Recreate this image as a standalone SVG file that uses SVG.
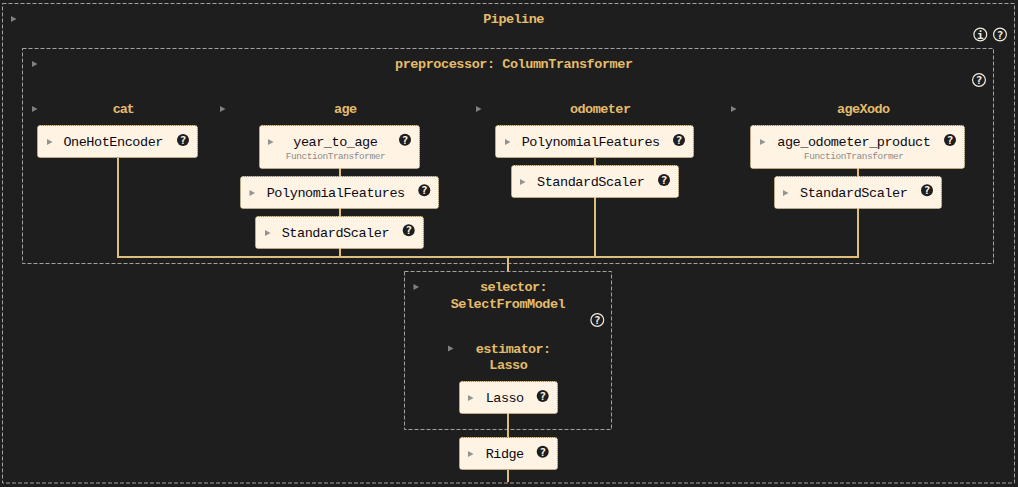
<svg xmlns="http://www.w3.org/2000/svg" width="1018" height="487" viewBox="0 0 1018 487">
<style>
text{font-family:"Liberation Mono","DejaVu Sans Mono",monospace;white-space:pre}
.box{fill:none;stroke:#a3a3a3;stroke-width:1;stroke-dasharray:4 2}
.node{fill:#fff3e4;stroke:#e3c98f;stroke-width:1;stroke-dasharray:1 1}
.line{fill:none;stroke:#dfbe7a;stroke-width:2}
.t{font-size:13.5px;fill:#e3bc6c;font-weight:700}
.n{font-size:13.5px;fill:#0a0a14}
.s{font-size:9.4px;fill:#8a8a8a}
.tri{fill:#808080}
.tri2{fill:#94948f}
.hd{fill:#1e1e1e}
.hl{fill:#1e1e1e;stroke:#f2ece0;stroke-width:1.2}
.q{font-size:11px;font-weight:700;fill:#fff3e4;text-anchor:middle;font-family:"DejaVu Sans Mono",monospace}
.q2{font-size:11px;font-weight:700;fill:#f2ece0;text-anchor:middle;font-family:"DejaVu Sans Mono",monospace}
</style>
<defs>
<polygon id="tr" points="0,-3 5.5,0 0,3"/>
<g id="h"><circle class="hd" r="6"/><text class="q" y="4">?</text></g>
<g id="hq"><circle class="hl" r="6.4"/><text class="q2" y="4">?</text></g>
</defs>
<rect width="1018" height="487" fill="#1e1e1e"/>
<g id="pipeline"><rect class="box" x="2.5" y="3.5" width="1012" height="479.5"/>
<use href="#tr" class="tri" x="11" y="19"/>
<text class="t" x="483.3" y="23" textLength="61">Pipeline</text>
<circle class="hl" cx="980.3" cy="34.5" r="6.4"/><text class="q2" x="980.3" y="38.5">i</text>
<use href="#hq" x="1000" y="34.5"/></g>
<g id="preprocessor"><rect class="box" x="22.5" y="48.5" width="971" height="215"/>
<use href="#tr" class="tri" x="32" y="64"/>
<text class="t" x="395" y="68" textLength="238">preprocessor: ColumnTransformer</text>
<use href="#hq" x="979" y="80"/></g>
<g id="selector"><rect class="box" x="404.5" y="271.5" width="207" height="158"/>
<use href="#tr" class="tri" x="413.5" y="287"/>
<text class="t" x="480" y="291" textLength="67.5">selector:</text>
<text class="t" x="450.7" y="308" textLength="115">SelectFromModel</text>
<use href="#hq" x="597.3" y="320"/></g>
<g id="connectors">
<path class="line" d="M118 158V257M340 168V257M595 158V257M858 168V257M117 257H859M508 257V271M508 413V437M508 470V482"/>
</g>
<g id="label-cat"><use href="#tr" class="tri" x="32" y="109"/><text class="t" x="112.7" y="113" textLength="22">cat</text></g>
<g id="label-age"><use href="#tr" class="tri" x="220" y="109"/><text class="t" x="334" y="113" textLength="23">age</text></g>
<g id="label-odometer"><use href="#tr" class="tri" x="476" y="109"/><text class="t" x="570" y="113" textLength="61">odometer</text></g>
<g id="label-ageXodo"><use href="#tr" class="tri" x="731" y="109"/><text class="t" x="837" y="113" textLength="53">ageXodo</text></g>
<g id="label-estimator"><use href="#tr" class="tri" x="448" y="348.5"/><text class="t" x="475.7" y="352.5" textLength="75.5">estimator:</text><text class="t" x="489.3" y="369" textLength="38.5">Lasso</text></g>
<g id="onehot"><rect class="node" x="37.5" y="125.5" width="160" height="32" rx="2.5"/><use href="#tr" class="tri2" x="47" y="142"/><text class="n" x="63.4" y="146" textLength="100">OneHotEncoder</text><use href="#h" x="183" y="140"/></g>
<g id="year_to_age"><rect class="node" x="259.5" y="125.5" width="160" height="43" rx="2.5"/><use href="#tr" class="tri2" x="268" y="142"/><text class="n" x="293.3" y="146" textLength="84.5">year_to_age</text><text class="s" x="285.7" y="159" textLength="100">FunctionTransformer</text><use href="#h" x="405" y="139.7"/></g>
<g id="age-poly"><rect class="node" x="240.5" y="176.5" width="198" height="32" rx="2.5"/><use href="#tr" class="tri2" x="249.5" y="193"/><text class="n" x="266.7" y="197" textLength="138.5">PolynomialFeatures</text><use href="#h" x="424.3" y="190.3"/></g>
<g id="age-scaler"><rect class="node" x="255.5" y="216.5" width="168" height="32" rx="2.5"/><use href="#tr" class="tri2" x="265" y="233"/><text class="n" x="281.7" y="237" textLength="107.8">StandardScaler</text><use href="#h" x="408.7" y="230.3"/></g>
<g id="odo-poly"><rect class="node" x="495.5" y="125.5" width="198" height="32" rx="2.5"/><use href="#tr" class="tri2" x="505" y="142"/><text class="n" x="521.7" y="146" textLength="138.5">PolynomialFeatures</text><use href="#h" x="679" y="140"/></g>
<g id="odo-scaler"><rect class="node" x="511.5" y="165.5" width="167" height="32" rx="2.5"/><use href="#tr" class="tri2" x="520" y="182"/><text class="n" x="537" y="186" textLength="107.8">StandardScaler</text><use href="#h" x="664" y="180"/></g>
<g id="age_odometer_product"><rect class="node" x="750.5" y="125.5" width="214" height="43" rx="2.5"/><use href="#tr" class="tri2" x="760" y="142"/><text class="n" x="777.3" y="146" textLength="153.5">age_odometer_product</text><text class="s" x="804" y="159" textLength="100">FunctionTransformer</text><use href="#h" x="950" y="140"/></g>
<g id="axo-scaler"><rect class="node" x="774.5" y="176.5" width="167" height="32" rx="2.5"/><use href="#tr" class="tri2" x="783" y="193"/><text class="n" x="800" y="197" textLength="107.8">StandardScaler</text><use href="#h" x="927" y="190.3"/></g>
<g id="lasso"><rect class="node" x="459.5" y="381.5" width="98" height="32" rx="2.5"/><use href="#tr" class="tri2" x="468" y="398"/><text class="n" x="485.7" y="402" textLength="38.5">Lasso</text><use href="#h" x="542.7" y="396"/></g>
<g id="ridge"><rect class="node" x="459.5" y="437.5" width="98" height="32" rx="2.5"/><use href="#tr" class="tri2" x="468" y="454"/><text class="n" x="485.7" y="458" textLength="38.5">Ridge</text><use href="#h" x="542.7" y="451.7"/></g>
</svg>
